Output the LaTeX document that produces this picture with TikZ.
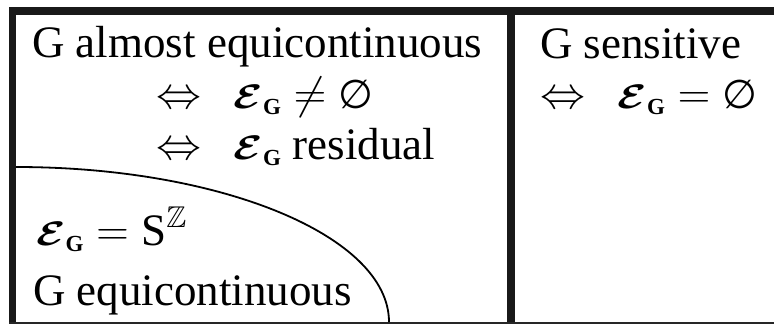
\RequirePackage{fix-cm}
\documentclass[tikz,border=0pt]{standalone}
\usepackage{amsmath,amssymb,bm}
\usepackage{fontspec}
\setmainfont{Liberation Serif}
\newfontfamily\symfont{DejaVu Sans}
\newcommand{\epsG}{\mbox{\scalebox{1.25}[1]{\fontsize{34}{34}\selectfont$\bm{\mathcal{E}}$}}_{\mbox{\fontsize{23}{23}\selectfont\bfseries G}}}
\newcommand{\nullset}{\mbox{\symfont\fontsize{40}{40}\selectfont ∅}}
\newcommand{\bbZ}{\mbox{\fontsize{30}{30}\selectfont$\mathbb{Z}$}}
\begin{document}
\begin{tikzpicture}[x=1pt,y=1pt,
  txt/.style={anchor=base west,inner sep=0pt,font=\fontsize{45}{50}\selectfont},
  thick border/.style={line width=7.5pt,draw=black!90},
  thin border/.style={line width=2pt,draw=black!85}]
\useasboundingbox (0,0) rectangle (774,-324);
% frame
\draw[thick border] (12.5,-7.5) -- (12.5,-322);
\draw[thick border] (9,-11) -- (774,-11);
\draw[thick border] (511,-11) -- (511,-322);
\draw[thin border] (9,-322.5) -- (774,-322.5);
% curve
\draw[line width=1.8pt] (16,-167) arc[start angle=90,end angle=0,x radius=373,y radius=155];
% left texts
\node[txt] (t1) at (32,-57) {G almost equicontinuous};
\node[txt] (t2) at (156,-108) {$\Leftrightarrow\;\,\epsG\neq\nullset$};
\node[txt] (t3) at (156,-159) {$\Leftrightarrow\;\,\epsG$ residual};
\node[txt] (t4) at (36,-245) {$\epsG=\mbox{S}^{\bbZ}$};
\node[txt] (t5) at (33,-305) {G equicontinuous};
% right texts
\node[txt] (r1) at (540,-58) {G sensitive};
\node[txt] (r2) at (540,-108) {$\Leftrightarrow\;\,\epsG=\nullset$};
\end{tikzpicture}
\end{document}
